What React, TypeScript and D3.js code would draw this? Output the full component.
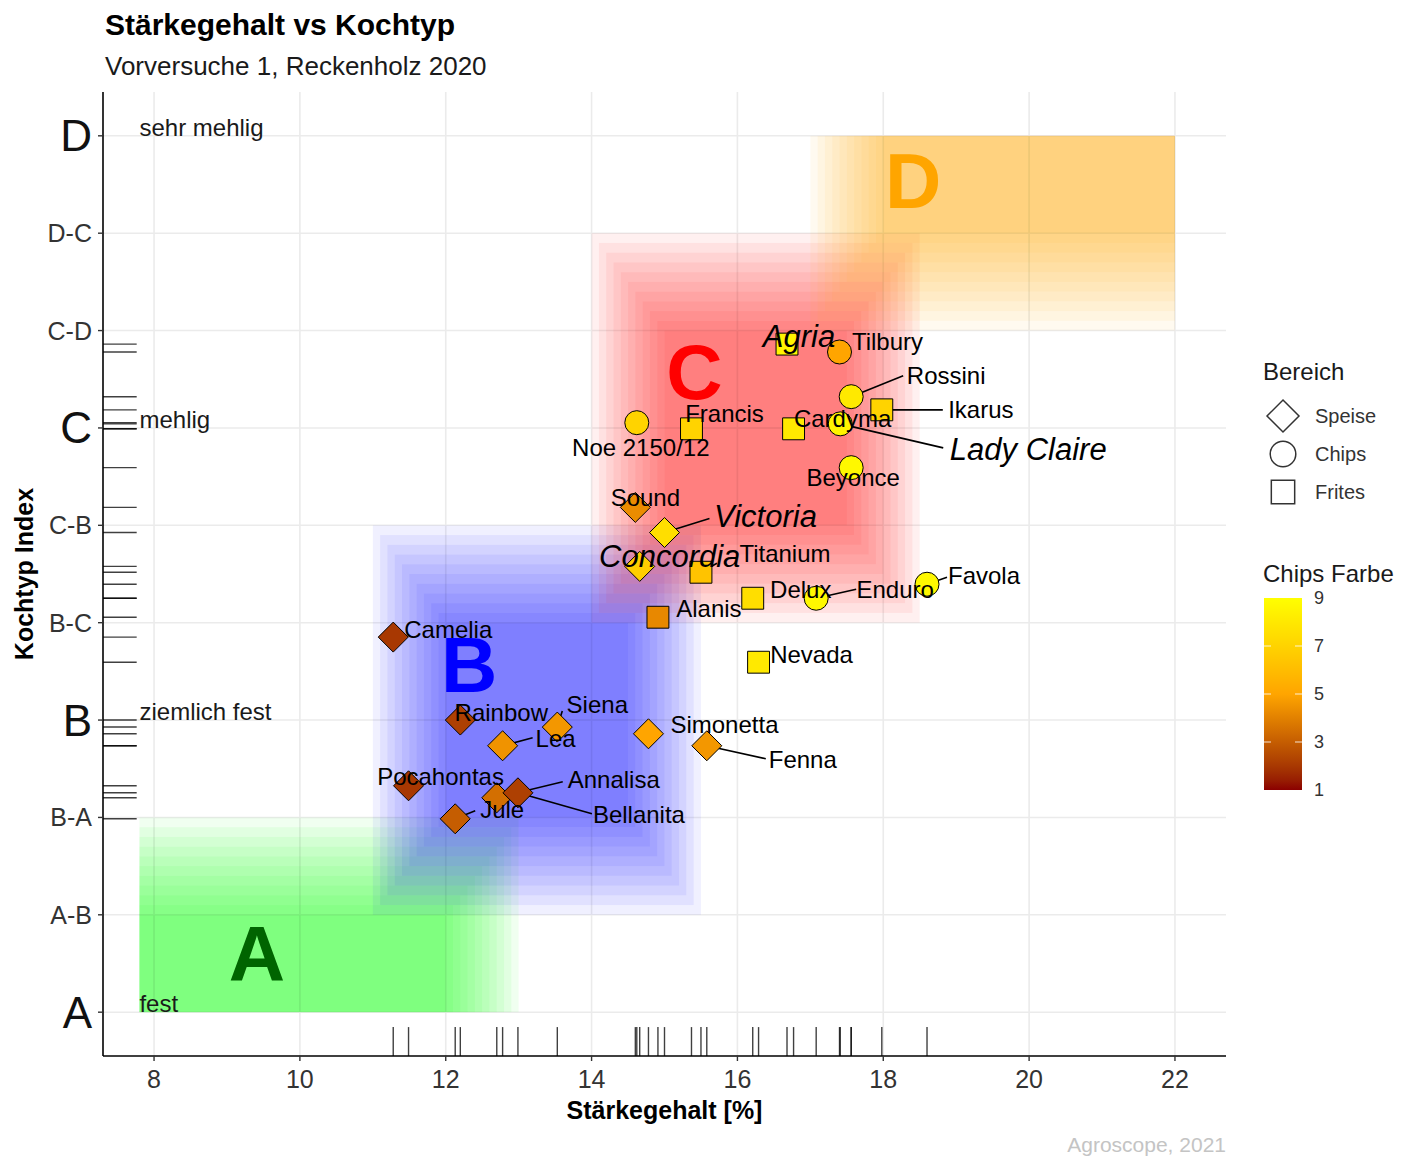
import React from "react";
import * as d3 from "d3";

// ---------- data ----------
const sorten = ["Agria","Tilbury","Rossini","Ikarus","Lady Claire","Cardyma","Francis","Noe 2150/12","Beyonce","Sound","Victoria","Concordia","Titanium","Delux","Enduro","Favola","Alanis","Nevada","Camelia","Rainbow","Siena","Lea","Simonetta","Fenna","Pocahontas","Annalisa","Bellanita","Jule"];
const staerke = [16.68,17.40,17.56,17.98,17.41,16.77,15.37,14.62,17.56,14.60,15.0,14.66,15.50,16.21,17.08,18.60,14.91,16.29,11.28,12.20,13.53,12.78,14.78,15.58,11.49,12.70,12.99,12.13];
const kochtyp = [3.287,3.260,3.107,3.062,3.014,2.997,2.997,3.018,2.864,2.728,2.642,2.526,2.506,2.417,2.417,2.465,2.352,2.198,2.284,2.000,1.976,1.912,1.953,1.912,1.775,1.734,1.751,1.662];
const bereich = ["Frites","Chips","Chips","Frites","Chips","Frites","Frites","Chips","Chips","Speise","Speise","Speise","Frites","Frites","Chips","Chips","Frites","Frites","Speise","Speise","Speise","Speise","Speise","Speise","Speise","Speise","Speise","Speise"];
const chipsFarbe = [8.5,5,8,7,8.5,8,7,7,8.7,4.3,7.5,6.8,6.3,7.5,8.7,8.7,4.2,8,2,2.2,4.6,4.5,5,4.6,2,3.5,2.2,3];
const hervorgehoben = ["Agria","Lady Claire","Victoria","Concordia"];

const xTicks = [8,10,12,14,16,18,20,22];
const yTickValues = [1,4/3,5/3,2,7/3,8/3,3,10/3,11/3,4];
const yTickLabels = ["A","A-B","B-A","B","B-C","C-B","C","C-D","D-C","D"];
const hauptTypen = ["A","B","C","D"];
const beschreibung = ["fest","ziemlich fest","mehlig","sehr mehlig"];
const beschreibungY = [1,2,3,4];

// Kochtyp regions (core rectangles) and their letters
const regionName = ["A","B","C","D"];
const regionX0 = [7.8,12,15,18];
const regionX1 = [12,14.5,17.5,22];
const regionY0 = [1,5/3,8/3,11/3];
const regionY1 = [4/3,7/3,10/3,4];
const regionLetterX = [9.41,12.32,15.41,18.41];
const regionLetterY = [1.2,2.19,3.19,3.845];

const bereichLevels = ["Speise","Chips","Frites"];
const farbeTicks = [1,3,5,7,9];

// ---------- layout / style ----------
const W = 1411, H = 1158;
const P = { l: 103, r: 1226, t: 92, b: 1056 };
const FONT = "'Liberation Sans', Arial, Helvetica, sans-serif";
const regionFill = ["#00FF00","#0000FF","#FF0000","#FFA500"];
const letterFill = ["#006400","#0000FF","#FF0000","#FFA500"];
// fade directions [left, right, down, up]
const regionGrow = [[0,1,0,1],[1,1,1,1],[1,1,1,1],[1,0,1,0]];
const LAYERS = 11;
const LAYER_ALPHA = 0.058;

// label placement (pixel offsets from point): [dx, dy, segDx, segDy]
const labelLayout: Record<string, number[]> = {
  "Agria": [12,-8],
  "Tilbury": [48,-10],
  "Rossini": [95,-21,52,-21],
  "Ikarus": [99,0,61,0],
  "Lady Claire": [188,26,103,24],
  "Cardyma": [49,-10],
  "Francis": [33,-15],
  "Noe 2150/12": [4,25],
  "Beyonce": [2,10],
  "Sound": [10,-10],
  "Victoria": [101,-16,45,-14],
  "Concordia": [30,-10],
  "Titanium": [84,-19,16,-9],
  "Delux": [48,-9],
  "Enduro": [79,-9,40,-9],
  "Favola": [57,-9,20,-7],
  "Alanis": [51,-9],
  "Nevada": [53,-8],
  "Camelia": [55,-8],
  "Rainbow": [41,-8],
  "Siena": [40,-23,5,-16],
  "Lea": [53,-7,30,-8],
  "Simonetta": [76,-9],
  "Fenna": [96,14,59,13],
  "Pocahontas": [32,-9],
  "Annalisa": [117,-18,66,-16],
  "Bellanita": [121,22,74,21],
  "Jule": [47,-9,20,-8],
};

function shapePath(kind: string, s: number): string {
  if (kind === "Speise") return `M0,${-s}L${s},0L0,${s}L${-s},0Z`;
  if (kind === "Frites") { const h = s * 0.73; return `M${-h},${-h}H${h}V${h}H${-h}Z`; }
  const r = s * 0.8;
  return `M${r},0A${r},${r} 0 1,1 ${-r},0A${r},${r} 0 1,1 ${r},0Z`;
}

export default function App() {
  const x = d3.scaleLinear().domain([7.3, 22.7]).range([P.l, P.r]);
  const y = d3.scaleLinear().domain([0.85, 4.15]).range([P.b, P.t]);
  const color = d3.scaleLinear<string>().domain([1,5,9]).range(["#8B0000","#FFA500","#FFFF00"]).interpolate(d3.interpolateLab);

  const dx = 0.1, dy = 1/30;
  const rects: JSX.Element[] = [];
  regionName.forEach((nm, r) => {
    const g = regionGrow[r];
    for (let i = 0; i < LAYERS; i++) {
      const x0 = regionX0[r] - g[0]*i*dx, x1 = regionX1[r] + g[1]*i*dx;
      const y0 = regionY0[r] - g[2]*i*dy, y1 = regionY1[r] + g[3]*i*dy;
      rects.push(<rect key={nm+i} x={x(x0)} y={y(y1)} width={x(x1)-x(x0)} height={y(y0)-y(y1)} fill={regionFill[r]} fillOpacity={LAYER_ALPHA} />);
    }
  });

  const pts = sorten.map((n, i) => ({ n, x: x(staerke[i]), y: y(kochtyp[i]), b: bereich[i], c: chipsFarbe[i] }));

  const barX = 1264, barW = 38, barTop = 598, barBot = 790;
  const fy = d3.scaleLinear().domain([1,9]).range([barBot, barTop]);
  const stops = d3.range(0, 21).map(k => 1 + k*0.4);

  return (
    <svg width={W} height={H} style={{ position: "absolute", left: 0, top: 0, background: "#fff" }} fontFamily={FONT}>
      <defs>
        <linearGradient id="farbe" x1="0" y1="1" x2="0" y2="0">
          {stops.map((v, k) => <stop key={k} offset={(v-1)/8} stopColor={color(v)} />)}
        </linearGradient>
      </defs>
      <rect width={W} height={H} fill="#fff" />
      {/* title */}
      <text x={105} y={35} fontSize={30} fontWeight="bold" fill="#000">Stärkegehalt vs Kochtyp</text>
      <text x={105} y={75} fontSize={26} fill="#1a1a1a">Vorversuche 1, Reckenholz 2020</text>

      {/* grid */}
      {xTicks.map(t => <line key={"gx"+t} x1={x(t)} x2={x(t)} y1={P.t} y2={P.b} stroke="#EBEBEB" strokeWidth={1.6} />)}
      {yTickValues.map((t, i) => <line key={"gy"+i} x1={P.l} x2={P.r} y1={y(t)} y2={y(t)} stroke="#EBEBEB" strokeWidth={1.6} />)}

      {/* regions */}
      {rects}
      {regionName.map((nm, r) => (
        <text key={"L"+nm} x={x(regionLetterX[r])} y={y(regionLetterY[r])} fontSize={78} fontWeight="bold" fill={letterFill[r]} textAnchor="middle" dominantBaseline="central">{nm}</text>
      ))}

      {/* descriptions */}
      {beschreibung.map((t, i) => (
        <text key={t} x={x(7.8)} y={y(beschreibungY[i])} fontSize={24} fill="#1a1a1a">{t}</text>
      ))}

      {/* rugs */}
      {pts.map((p, i) => <line key={"rx"+i} x1={p.x} x2={p.x} y1={P.b} y2={P.b - 0.03*(P.b-P.t)} stroke="#000" strokeOpacity={0.75} strokeWidth={1.4} />)}
      {pts.map((p, i) => <line key={"ry"+i} x1={P.l} x2={P.l + 0.03*(P.r-P.l)} y1={p.y} y2={p.y} stroke="#000" strokeOpacity={0.75} strokeWidth={1.4} />)}

      {/* segments */}
      {pts.map((p, i) => {
        const L = labelLayout[p.n];
        if (!L || L.length < 4) return null;
        return <line key={"s"+i} x1={p.x} y1={p.y} x2={p.x+L[2]} y2={p.y+L[3]} stroke="#000" strokeWidth={1.6} />;
      })}

      {/* points */}
      {pts.map((p, i) => (
        <path key={"p"+i} d={shapePath(p.b, 15)} transform={`translate(${p.x},${p.y})`} fill={color(p.c)} stroke="#000" strokeWidth={1} />
      ))}

      {/* labels */}
      {pts.map((p, i) => {
        const L = labelLayout[p.n];
        const it = hervorgehoben.includes(p.n);
        return <text key={"t"+i} x={p.x+L[0]} y={p.y+L[1]} fontSize={it ? 31 : 24} fontStyle={it ? "italic" : "normal"} fill="#000" textAnchor="middle" dominantBaseline="central">{p.n}</text>;
      })}

      {/* axes */}
      <line x1={P.l} x2={P.l} y1={P.t} y2={P.b} stroke="#000" strokeWidth={1.6} />
      <line x1={P.l} x2={P.r} y1={P.b} y2={P.b} stroke="#000" strokeWidth={1.6} />
      {xTicks.map(t => (
        <g key={"xt"+t}>
          <line x1={x(t)} x2={x(t)} y1={P.b} y2={P.b+5} stroke="#333" strokeWidth={1.4} />
          <text x={x(t)} y={1088} fontSize={25} fill="#333" textAnchor="middle">{t}</text>
        </g>
      ))}
      {yTickValues.map((t, i) => {
        const big = hauptTypen.includes(yTickLabels[i]);
        return (
          <g key={"yt"+i}>
            <line x1={P.l-5} x2={P.l} y1={y(t)} y2={y(t)} stroke="#333" strokeWidth={1.4} />
            <text x={92} y={y(t)} fontSize={big ? 44 : 25} fill={big ? "#111" : "#333"} textAnchor="end" dominantBaseline="central">{yTickLabels[i]}</text>
          </g>
        );
      })}
      <text x={(P.l+P.r)/2} y={1119} fontSize={25} fontWeight="bold" textAnchor="middle" fill="#000">Stärkegehalt [%]</text>
      <text transform={`translate(33,${(P.t+P.b)/2}) rotate(-90)`} fontSize={25} fontWeight="bold" textAnchor="middle" fill="#000">Kochtyp Index</text>
      <text x={P.r} y={1152} fontSize={21} fill="#c4c4c4" textAnchor="end">Agroscope, 2021</text>

      {/* legend: Bereich */}
      <text x={1263} y={380} fontSize={24} fill="#1a1a1a">Bereich</text>
      {bereichLevels.map((b, i) => (
        <g key={"lg"+b}>
          <path d={shapePath(b, 16)} transform={`translate(1283,${416+i*38})`} fill="#fff" stroke="#333" strokeWidth={1.5} />
          <text x={1315} y={416+i*38} fontSize={20} fill="#333" dominantBaseline="central">{b}</text>
        </g>
      ))}
      <text x={1263} y={582} fontSize={24} fill="#1a1a1a">Chips Farbe</text>
      <rect x={barX} y={barTop} width={barW} height={barBot-barTop} fill="url(#farbe)" />
      {farbeTicks.map(v => (
        <g key={"ft"+v}>
          {v !== 1 && v !== 9 && <>
            <line x1={barX} x2={barX+7} y1={fy(v)} y2={fy(v)} stroke="#fff" strokeOpacity={0.7} strokeWidth={1.2} />
            <line x1={barX+barW-7} x2={barX+barW} y1={fy(v)} y2={fy(v)} stroke="#fff" strokeOpacity={0.7} strokeWidth={1.2} />
          </>}
          <text x={1314} y={fy(v)} fontSize={18} fill="#333" dominantBaseline="central">{v}</text>
        </g>
      ))}
    </svg>
  );
}
